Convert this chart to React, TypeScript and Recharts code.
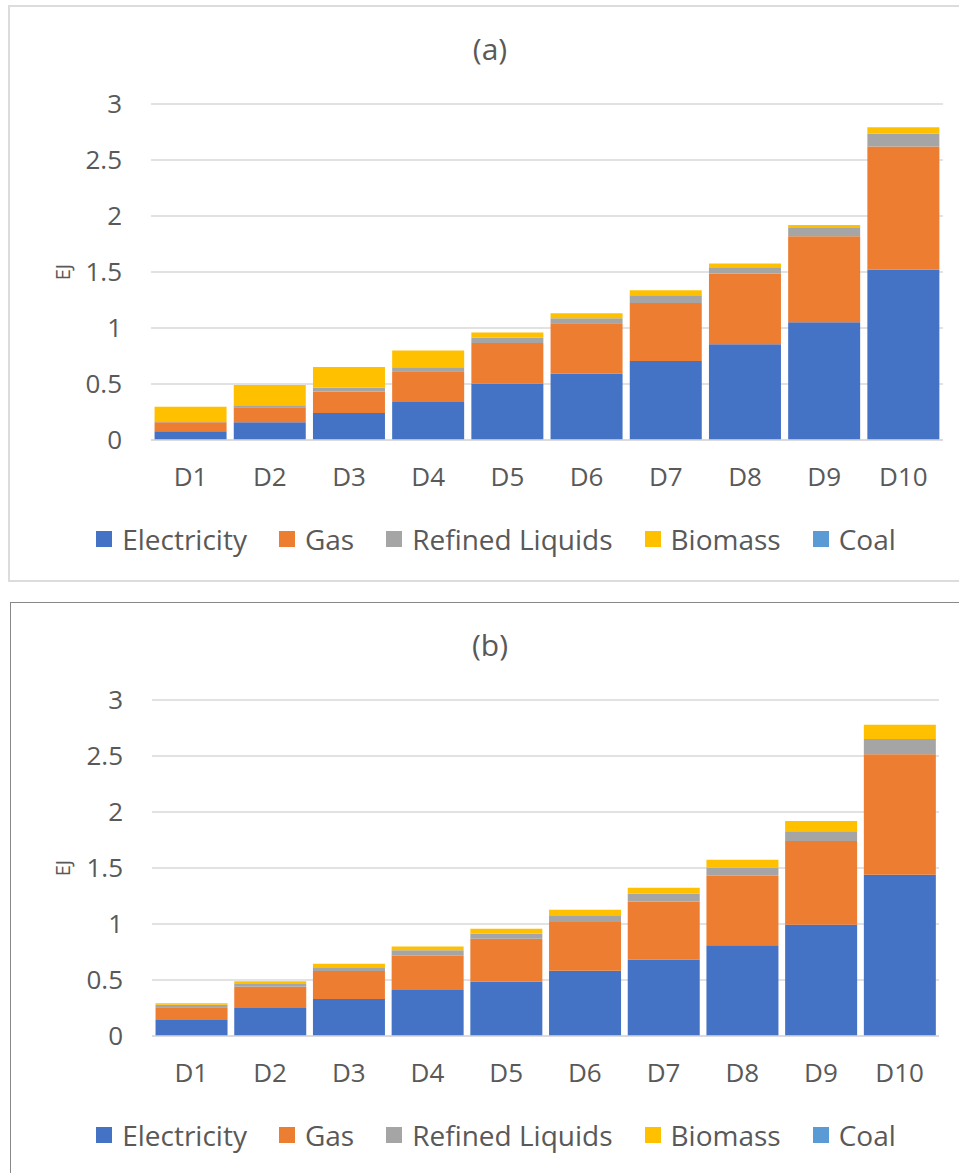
import React from "react";
import { BarChart, Bar, XAxis, YAxis, CartesianGrid, Legend } from "recharts";

const deciles = ["D1", "D2", "D3", "D4", "D5", "D6", "D7", "D8", "D9", "D10"];
const yTicks = [0, 0.5, 1, 1.5, 2, 2.5, 3];

// panel (a)
const electricityA = [0.078, 0.158, 0.24, 0.34, 0.504, 0.593, 0.706, 0.855, 1.052, 1.52];
const gasA = [0.08, 0.134, 0.193, 0.274, 0.363, 0.45, 0.518, 0.632, 0.768, 1.1];
const refinedA = [0.01, 0.018, 0.036, 0.036, 0.048, 0.045, 0.069, 0.056, 0.08, 0.116];
const biomassA = [0.128, 0.18, 0.182, 0.15, 0.045, 0.044, 0.045, 0.033, 0.02, 0.056];
const coalA = [0, 0, 0, 0, 0, 0, 0, 0, 0, 0];

// panel (b)
const electricityB = [0.143, 0.25, 0.33, 0.41, 0.486, 0.582, 0.683, 0.81, 0.994, 1.439];
const gasB = [0.114, 0.19, 0.25, 0.307, 0.383, 0.436, 0.517, 0.62, 0.746, 1.077];
const refinedB = [0.023, 0.025, 0.033, 0.048, 0.044, 0.054, 0.069, 0.074, 0.089, 0.135];
const biomassB = [0.013, 0.024, 0.033, 0.033, 0.045, 0.056, 0.054, 0.069, 0.09, 0.128];
const coalB = [0, 0, 0, 0, 0, 0, 0, 0, 0, 0];

const series = [
  { key: "electricity", name: "Electricity", color: "#4472C4" },
  { key: "gas", name: "Gas", color: "#ED7D31" },
  { key: "refined", name: "Refined Liquids", color: "#A5A5A5" },
  { key: "biomass", name: "Biomass", color: "#FFC000" },
  { key: "coal", name: "Coal", color: "#5B9BD5" },
];

const FONT = "'Open Sans', sans-serif";
const TEXT = "#595959";
const GRID = "#d9d9d9";

const build = (e: number[], g: number[], r: number[], b: number[], c: number[]) =>
  deciles.map((d, i) => ({ decile: d, electricity: e[i], gas: g[i], refined: r[i], biomass: b[i], coal: c[i] }));

const dataA = build(electricityA, gasA, refinedA, biomassA, coalA);
const dataB = build(electricityB, gasB, refinedB, biomassB, coalB);

// keep the series order (recharts sorts legend items by name otherwise)
const LegendContent = () => (
  <div
    style={{
      display: "flex",
      justifyContent: "center",
      gap: 32,
      fontFamily: FONT,
      fontSize: 28,
      color: TEXT,
      lineHeight: "34px",
    }}
  >
    {series.map((s) => (
      <div key={s.key} style={{ display: "flex", alignItems: "center" }}>
        <span style={{ width: 16, height: 16, background: s.color, marginRight: 10, display: "inline-block" }} />
        {s.name}
      </div>
    ))}
  </div>
);

const Panel = ({ data, title, top, plotLeft, plotRight }: any) => {
  const width = 990;
  return (
    <div style={{ position: "absolute", left: 0, top, width, height: 580 }}>
      <div
        style={{
          position: "absolute",
          left: 0,
          top: 34,
          width: 980,
          textAlign: "center",
          fontFamily: FONT,
          fontSize: 30,
          lineHeight: "30px",
          color: TEXT,
        }}
      >
        {title}
      </div>
      <BarChart
        width={width}
        height={580}
        data={data}
        margin={{ top: 104, right: width - plotRight, left: 0, bottom: 100 }}
        barCategoryGap="4.5%"
      >
        <CartesianGrid vertical={false} stroke={GRID} strokeWidth={1.5} />
        <XAxis
          dataKey="decile"
          height={40}
          tickLine={false}
          tickSize={0}
          tickMargin={28}
          axisLine={{ stroke: GRID, strokeWidth: 1.5 }}
          tick={{ fill: TEXT, fontSize: 26, fontFamily: FONT }}
        />
        <YAxis
          width={plotLeft}
          domain={[0, 3]}
          ticks={yTicks}
          axisLine={false}
          tickLine={false}
          tickSize={0}
          tickMargin={29}
          tick={{ fill: TEXT, fontSize: 26, fontFamily: FONT }}
          label={{
            content: ({ viewBox }: any) => (
              <text
                x={62}
                y={viewBox.y + viewBox.height / 2}
                transform={`rotate(-90, 62, ${viewBox.y + viewBox.height / 2})`}
                textAnchor="middle"
                dominantBaseline="central"
                fill={TEXT}
                fontSize={20}
                fontFamily={FONT}
              >
                EJ
              </text>
            ),
          }}
        />
        <Legend
          layout="horizontal"
          verticalAlign="middle"
          align="center"
          wrapperStyle={{ left: 0, top: 522, width: 992 }}
          content={<LegendContent />}
        />
        {series.map((s) => (
          <Bar key={s.key} dataKey={s.key} name={s.name} stackId="a" fill={s.color} isAnimationActive={false} />
        ))}
      </BarChart>
    </div>
  );
};

export default function App() {
  return (
    <div style={{ position: "absolute", left: 0, top: 0, width: 959, height: 1173, overflow: "hidden", background: "#fff" }}>
      <div
        style={{
          position: "absolute",
          left: 8,
          top: 5,
          width: 1000,
          height: 577,
          border: "2px solid #dcdcdc",
          boxSizing: "border-box",
        }}
      />
      <div
        style={{
          position: "absolute",
          left: 10,
          top: 602,
          width: 1000,
          height: 700,
          border: "1px solid #888",
          boxSizing: "border-box",
        }}
      />
      <Panel data={dataA} title="(a)" top={0} plotLeft={151} plotRight={943} />
      <Panel data={dataB} title="(b)" top={596} plotLeft={152} plotRight={939} />
    </div>
  );
}
